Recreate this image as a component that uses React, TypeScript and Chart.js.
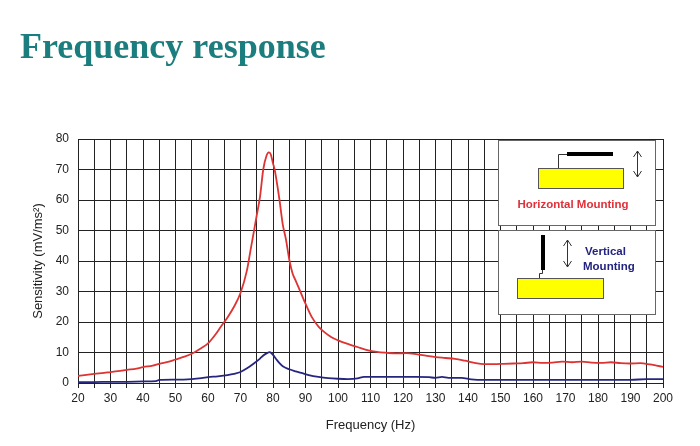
import React, { useEffect, useRef } from "react";
import { Chart, registerables } from "chart.js";

Chart.register(...registerables);

const titleText = "Frequency response";
const xAxisTitle = "Frequency (Hz)";
const yAxisTitle = "Sensitivity (mV/ms²)";
const horizontalLabel = "Horizontal Mounting";
const verticalLabel = ["Vertical", "Mounting"];

const redFreq = [20, 22, 25, 28, 30, 33, 35, 38, 40, 43, 45, 48, 50, 53, 55, 58, 60, 62, 64, 66, 68, 70, 72, 73, 74, 75, 76, 77, 78, 78.7, 79.3, 80, 80.5, 81, 82, 83, 84, 85, 86, 87, 88, 90, 92, 94, 96, 98, 100, 103, 106, 109, 112, 115, 118, 121, 124, 127, 130, 133, 136, 139, 142, 145, 148, 151, 154, 157, 160, 163, 166, 169, 172, 175, 178, 181, 184, 187, 190, 193, 196, 198, 200];
const redValues = [2.3, 2.6, 3.0, 3.3, 3.6, 4.0, 4.3, 4.7, 5.2, 5.7, 6.3, 7.0, 7.7, 8.7, 9.6, 11.5, 13.0, 15.5, 18.5, 21.5, 25.0, 29.5, 37.0, 43.0, 49.0, 55.0, 61.0, 70.0, 74.5, 75.6, 75.0, 72.0, 70.0, 67.0, 60.0, 52.0, 47.0, 40.5, 36.0, 33.5, 31.0, 26.0, 21.5, 18.5, 16.5, 15.0, 14.0, 12.8, 11.8, 10.8, 10.2, 9.9, 9.7, 9.8, 9.5, 9.0, 8.5, 8.2, 7.9, 7.3, 6.6, 6.2, 6.2, 6.3, 6.4, 6.5, 6.8, 6.6, 6.7, 7.0, 6.8, 7.0, 6.7, 6.6, 6.8, 6.5, 6.4, 6.5, 6.1, 5.7, 5.3];

const blueFreq = [20, 25, 30, 35, 40, 44, 45, 50, 55, 58, 60, 63, 66, 68, 70, 72, 74, 76, 77, 78, 79, 80, 81, 82, 83, 85, 87, 89, 91, 94, 97, 100, 103, 106, 108, 112, 116, 120, 124, 128, 130, 132, 134, 138, 141, 145, 150, 160, 170, 180, 190, 195, 200];
const blueValues = [0.3, 0.3, 0.4, 0.4, 0.5, 0.6, 1.0, 1.1, 1.3, 1.6, 1.9, 2.2, 2.6, 3.0, 3.6, 4.8, 6.3, 8.0, 9.0, 9.7, 10.1, 9.2, 7.8, 6.5, 5.5, 4.5, 3.8, 3.2, 2.6, 2.0, 1.6, 1.4, 1.3, 1.5, 2.0, 2.0, 2.0, 2.0, 2.0, 1.9, 1.7, 2.0, 1.7, 1.7, 1.2, 1.0, 1.0, 1.0, 1.0, 1.0, 1.0, 1.3, 1.3];

const X_MIN = 20, X_MAX = 200, Y_MIN = 0, Y_MAX = 80;

function arrow(ctx: CanvasRenderingContext2D, x: number, y1: number, y2: number) {
  ctx.save();
  ctx.strokeStyle = "#333";
  ctx.lineWidth = 1;
  ctx.beginPath();
  ctx.moveTo(x, y1);
  ctx.lineTo(x, y2);
  ctx.moveTo(x - 4, y1 + 6);
  ctx.lineTo(x, y1);
  ctx.lineTo(x + 4, y1 + 6);
  ctx.moveTo(x - 4, y2 - 6);
  ctx.lineTo(x, y2);
  ctx.lineTo(x + 4, y2 - 6);
  ctx.stroke();
  ctx.restore();
}

const insetPlugin = {
  id: "insets",
  afterDraw(chart: any) {
    const ctx: CanvasRenderingContext2D = chart.ctx;
    ctx.save();
    ctx.fillStyle = "#fff";
    ctx.strokeStyle = "#666";
    ctx.lineWidth = 1;
    ctx.fillRect(498, 140, 157, 85);
    ctx.strokeRect(498.5, 140.5, 157, 85);
    ctx.fillRect(498, 230, 157, 84);
    ctx.strokeRect(498.5, 230.5, 157, 84);

    // horizontal mounting drawing
    ctx.fillStyle = "#ffff00";
    ctx.strokeStyle = "#555";
    ctx.fillRect(538, 168, 85, 20);
    ctx.strokeRect(538.5, 168.5, 85, 20);
    ctx.fillStyle = "#000";
    ctx.fillRect(567, 152, 46, 4);
    ctx.beginPath();
    ctx.strokeStyle = "#333";
    ctx.moveTo(558.5, 168);
    ctx.lineTo(558.5, 154.5);
    ctx.lineTo(567, 154.5);
    ctx.stroke();
    arrow(ctx, 637.5, 151, 177);
    ctx.fillStyle = "#e0303a";
    ctx.font = "bold 11.5px 'Liberation Sans', Arial, sans-serif";
    ctx.textAlign = "center";
    ctx.textBaseline = "middle";
    ctx.fillText(horizontalLabel, 573, 205);

    // vertical mounting drawing
    ctx.fillStyle = "#000";
    ctx.fillRect(541, 235, 4, 35);
    ctx.beginPath();
    ctx.strokeStyle = "#333";
    ctx.moveTo(542.5, 270);
    ctx.lineTo(542.5, 273.5);
    ctx.lineTo(539.5, 273.5);
    ctx.lineTo(539.5, 278);
    ctx.stroke();
    ctx.fillStyle = "#ffff00";
    ctx.strokeStyle = "#555";
    ctx.fillRect(517, 278, 86, 20);
    ctx.strokeRect(517.5, 278.5, 86, 20);
    arrow(ctx, 567.5, 240, 267);
    ctx.fillStyle = "#232380";
    ctx.textAlign = "left";
    ctx.fillText(verticalLabel[0], 585, 252);
    ctx.fillText(verticalLabel[1], 583, 267);
    ctx.restore();
  },
};

export default function App() {
  const canvasRef = useRef<HTMLCanvasElement | null>(null);

  useEffect(() => {
    document.body.style.margin = "0";
    const canvas = canvasRef.current;
    if (!canvas) return;
    const redData = redFreq.map((x, i) => ({ x, y: redValues[i] }));
    const blueData = blueFreq.map((x, i) => ({ x, y: blueValues[i] }));
    const family = "'Liberation Sans', Arial, sans-serif";
    const tickFont = { family, size: 12 };
    const titleFont = { family, size: 13 };
    const chart = new Chart(canvas, {
      type: "line",
      data: {
        datasets: [
          { label: "Horizontal", data: redData, borderColor: "#dd3333", borderWidth: 1.8, pointRadius: 0, cubicInterpolationMode: "monotone", fill: false },
          { label: "Vertical", data: blueData, borderColor: "#262680", borderWidth: 1.8, pointRadius: 0, cubicInterpolationMode: "monotone", fill: false },
        ],
      },
      options: {
        responsive: false,
        animation: false,
        devicePixelRatio: 1,
        layout: { padding: { top: 139, right: 37, left: 0, bottom: 0 } },
        plugins: { legend: { display: false }, tooltip: { enabled: false }, title: { display: false } },
        scales: {
          x: {
            type: "linear",
            min: X_MIN,
            max: X_MAX,
            afterFit: (s: any) => { s.height = 63; },
            ticks: {
              stepSize: 5,
              autoSkip: false,
              maxRotation: 0,
              padding: 3,
              color: "#222",
              font: tickFont,
              callback: (v: any) => (Number(v) % 10 === 0 ? String(v) : ""),
            },
            grid: { color: "#222", lineWidth: 1, tickLength: 5, drawTicks: true },
            border: { color: "#222", width: 1 },
            title: { display: true, text: xAxisTitle, color: "#222", font: titleFont, padding: { top: 4, bottom: 13 } },
          },
          y: {
            type: "linear",
            min: Y_MIN,
            max: Y_MAX,
            afterFit: (s: any) => { s.width = 78; },
            ticks: { stepSize: 10, padding: 9, color: "#222", font: tickFont },
            grid: { color: "#222", lineWidth: 1, drawTicks: false },
            border: { color: "#222", width: 1 },
            title: { display: true, text: yAxisTitle, color: "#222", font: titleFont, padding: { top: 31, bottom: 0 } },
          },
        },
      },
      plugins: [insetPlugin],
    });
    return () => chart.destroy();
  }, []);

  return (
    <div style={{ position: "relative", width: 700, height: 446, background: "#fff" }}>
      <canvas ref={canvasRef} width={700} height={446} style={{ position: "absolute", left: 0, top: 0 }} />
      <div
        style={{
          position: "absolute",
          left: 20,
          top: 28,
          fontFamily: "'Liberation Serif', 'Times New Roman', serif",
          fontWeight: "bold",
          fontSize: 36,
          lineHeight: 1,
          color: "#1b7d7d",
          whiteSpace: "nowrap",
        }}
      >
        {titleText}
      </div>
    </div>
  );
}
